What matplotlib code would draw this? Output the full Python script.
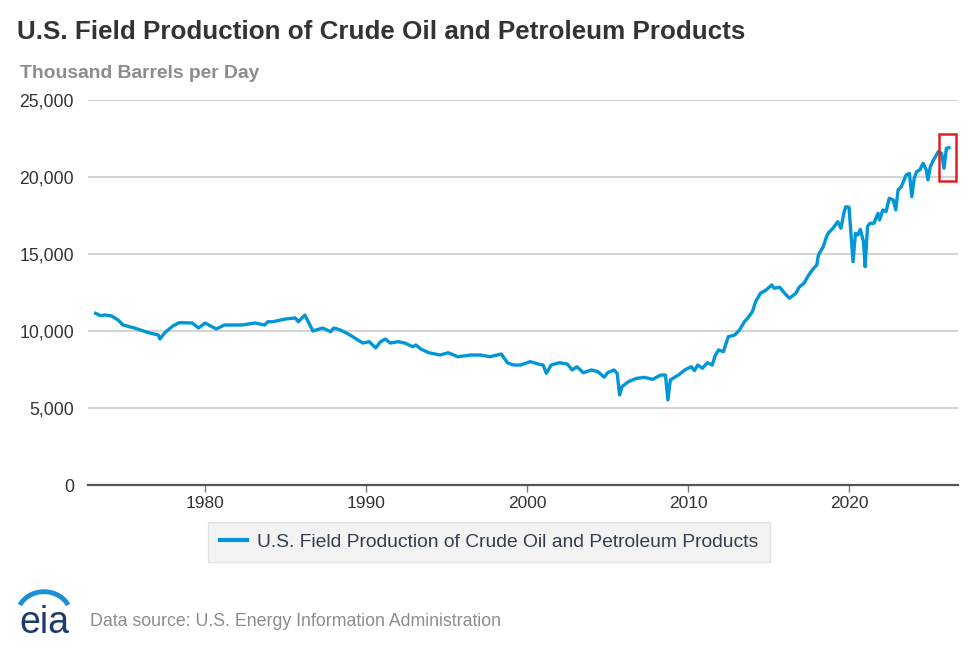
import numpy as np
import matplotlib
matplotlib.use("Agg")
import matplotlib.pyplot as plt
from matplotlib.patches import Rectangle
from matplotlib.ticker import FuncFormatter

# ---------------- data (thousand barrels per day) ----------------
years = [
    1973.2, 1973.5, 1973.8, 1974.2, 1974.6, 1974.9, 1975.6, 1976.5, 1977.1, 1977.2,
    1977.5, 1978.0, 1978.4, 1979.2, 1979.6, 1980.0, 1980.7, 1981.2, 1982.3, 1983.1,
    1983.7, 1983.9, 1984.2, 1985.0, 1985.6, 1985.8, 1986.2, 1986.7, 1987.3, 1987.8,
    1988.0, 1988.4, 1988.9, 1989.3, 1989.8, 1990.2, 1990.6, 1990.9, 1991.2, 1991.5,
    1992.0, 1992.4, 1992.9, 1993.1, 1993.4, 1993.9, 1994.6, 1995.1, 1995.7, 1996.5,
    1997.1, 1997.7, 1998.4, 1998.8, 1999.2, 1999.6, 2000.2, 2000.7, 2001.0, 2001.2,
    2001.5, 2002.0, 2002.5, 2002.8, 2003.1, 2003.5, 2004.0, 2004.4, 2004.8, 2005.0,
    2005.4, 2005.6, 2005.75, 2005.9, 2006.3, 2006.8, 2007.3, 2007.8, 2008.3, 2008.6,
    2008.75, 2008.9, 2009.4, 2009.8, 2010.2, 2010.4, 2010.6, 2010.9, 2011.2, 2011.5,
    2011.7, 2011.9, 2012.2, 2012.5, 2012.9, 2013.2, 2013.5, 2013.7, 2014.0, 2014.2,
    2014.5, 2014.85, 2015.2, 2015.35, 2015.7, 2016.0, 2016.3, 2016.7, 2016.9, 2017.2,
    2017.5, 2017.8, 2018.0, 2018.1, 2018.4, 2018.6, 2018.7, 2019.0, 2019.3, 2019.5,
    2019.7, 2019.8, 2020.0, 2020.25, 2020.4, 2020.55, 2020.7, 2020.9, 2021.0, 2021.15,
    2021.3, 2021.55, 2021.8, 2021.9, 2022.1, 2022.3, 2022.5, 2022.75, 2022.9, 2023.05,
    2023.25, 2023.55, 2023.75, 2023.9, 2024.05, 2024.2, 2024.4, 2024.6, 2024.8, 2024.9,
    2025.05, 2025.25, 2025.55, 2025.75, 2025.9, 2026.05, 2026.2,
]
production = [
    11150, 11000, 11040, 10975, 10715, 10390, 10195, 9890, 9740, 9480,
    9890, 10325, 10540, 10520, 10195, 10520, 10130, 10390, 10390, 10520,
    10390, 10600, 10600, 10780, 10845, 10600, 11040, 10000, 10195, 9955,
    10195, 10065, 9805, 9545, 9220, 9305, 8900, 9305, 9480, 9220,
    9305, 9220, 8980, 9090, 8830, 8590, 8440, 8590, 8330, 8440,
    8440, 8330, 8505, 7920, 7790, 7790, 8010, 7855, 7790, 7250,
    7790, 7940, 7855, 7470, 7680, 7290, 7470, 7360, 7000, 7290,
    7470, 7250, 5845, 6385, 6710, 6925, 6990, 6860, 7140, 7140,
    5520, 6820, 7140, 7470, 7680, 7425, 7790, 7580, 7940, 7790,
    8440, 8770, 8660, 9630, 9740, 10065, 10600, 10825, 11255, 11905,
    12450, 12665, 12990, 12775, 12840, 12450, 12125, 12450, 12840, 13100,
    13640, 14070, 14285, 14935, 15475, 16125, 16345, 16670, 17100, 16670,
    17750, 18075, 18035, 14500, 16345, 16235, 16605, 15800, 14180, 16780,
    16995, 16995, 17645, 17210, 17860, 17750, 18620, 18510, 17860, 19160,
    19375, 20130, 20240, 18725, 19920, 20350, 20460, 20890, 20460, 19810,
    20670, 21105, 21645, 21540, 20565, 21865, 21900,
]

y_ticks = [0, 5000, 10000, 15000, 20000, 25000]
x_ticks = [1980, 1990, 2000, 2010, 2020]

title = "U.S. Field Production of Crude Oil and Petroleum Products"
subtitle = "Thousand Barrels per Day"
series_name = "U.S. Field Production of Crude Oil and Petroleum Products"
source = "Data source: U.S. Energy Information Administration"

# ---------------- figure ----------------
plt.rcParams['font.family'] = ['Liberation Sans', 'DejaVu Sans']
W, H = 974, 648
fig = plt.figure(figsize=(W / 100, H / 100), dpi=100)
ax = fig.add_axes([88 / W, 1 - 485 / H, (958 - 88) / W, (485 - 100) / H])

line_color = '#0096d7'
ln, = ax.plot(years, production, color=line_color, lw=2.4, solid_joinstyle='round',
              label=series_name, zorder=3)

ax.set_xlim(1972.73, 2026.77)
ax.set_ylim(0, 25000)
ax.set_yticks(y_ticks)
ax.set_xticks(x_ticks)
ax.yaxis.set_major_formatter(FuncFormatter(lambda v, p: f"{int(v):,}"))
ax.grid(axis='y', color='#cccccc', lw=1.2, zorder=0)
ax.set_axisbelow(True)
for s in ['top', 'right', 'left']:
    ax.spines[s].set_visible(False)
ax.spines['bottom'].set_color('#555555')
ax.spines['bottom'].set_linewidth(1.6)
ax.spines['bottom'].set_zorder(4)
ax.tick_params(axis='y', length=0, pad=10, labelsize=12.7, labelcolor='#333333')
ax.tick_params(axis='x', length=5, width=1, color='#777777', pad=3,
               labelsize=12.5, labelcolor='#333333')

# highlight box around the latest observations
last_x = years[-4:]
last_y = production[-4:]
x0 = min(last_x) - 0.15
x1 = max(last_x) + 0.45
y0 = min(last_y) - 800
y1 = max(last_y) + 900
ax.add_patch(Rectangle((x0, y0), x1 - x0, y1 - y0, fill=False, edgecolor='#e02020',
                       lw=1.8, zorder=5, clip_on=False))

# titles
fig.text(17 / W, 1 - 32 / H, title, fontsize=18.7, fontweight='bold', color='#333333',
         ha='left', va='center')
fig.text(20 / W, 1 - 73 / H, subtitle, fontsize=13.9, fontweight='bold', color='#8c8c8c',
         ha='left', va='center')

# legend
leg = fig.legend(handles=[ln], labels=[series_name], loc='center',
                 bbox_to_anchor=(489 / W, 1 - 542 / H), frameon=True, fancybox=False,
                 fontsize=13.9, handlelength=1.4, handletextpad=0.55, borderpad=0.6,
                 labelcolor='#333f50')
fr = leg.get_frame()
fr.set_facecolor('#f0f0f0')
fr.set_edgecolor('#dddddd')
fr.set_linewidth(1.0)
for h in leg.legend_handles:
    h.set_linewidth(3)

# logo + source
lax = fig.add_axes([14 / W, 1 - 636 / H, 62 / W, 50 / H])
lax.set_xlim(0, 62)
lax.set_ylim(0, 50)
lax.axis('off')
t = np.linspace(0.15 * np.pi, 0.85 * np.pi, 60)
lax.plot(30 + 27 * np.cos(t), 20 + 27 * np.sin(t) * 0.9, color='#1b8fd6', lw=3.5,
         solid_capstyle='butt')
lax.text(30, 3, "eia", fontsize=27, color='#1d3c6e', ha='center', va='baseline')
fig.text(90 / W, 1 - 622 / H, source, fontsize=12.8, color='#8c8c8c', ha='left', va='center')

fig.savefig('out.png', dpi=100)
